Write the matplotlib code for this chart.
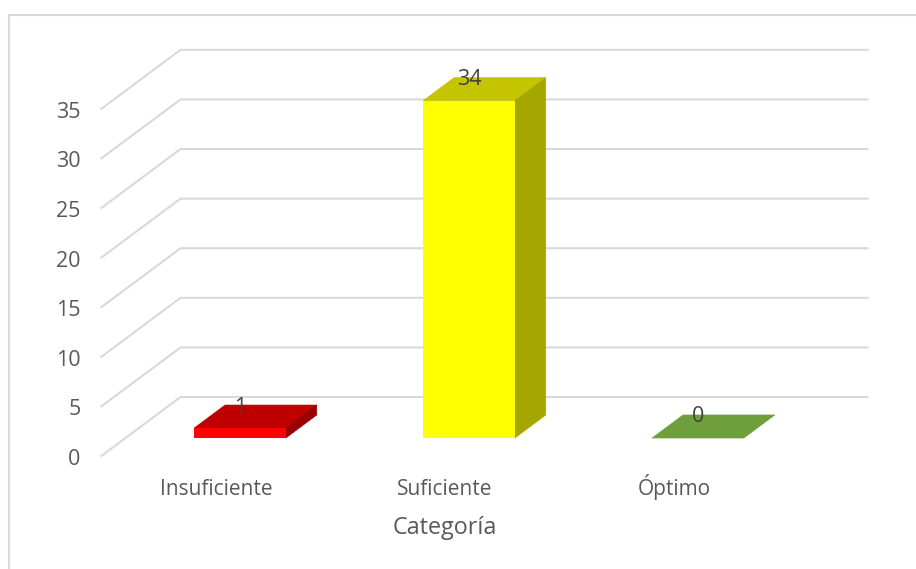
import matplotlib
matplotlib.use("Agg")
from matplotlib import pyplot as plt
from matplotlib.patches import Rectangle

categories = ["Insuficiente", "Suficiente", "Óptimo"]
values = [1, 34, 0]
y_ticks = [0, 5, 10, 15, 20, 25, 30, 35]
front_colors = ["#FF0000", "#FFFF00", "#70AD47"]
top_colors = ["#C00000", "#C4C400", "#6F9E3C"]
side_colors = ["#990000", "#A6A600", "#5A8236"]

plt.rcParams["font.family"] = ["Open Sans", "DejaVu Sans"]

# fake 3D: one unit of depth moves a point by this much in data units
depth_x = 0.135
depth_y = 2.32
floor_front = -0.78
floor_back = 1.78
bar_width = 0.4
px_x = 1 / 229  # one pixel in x data units
px_y = 1 / 9.92  # one pixel in y data units


def shifted(x, y, d):
    return x + d * depth_x, y + d * depth_y


fig = plt.figure(figsize=(9.16, 5.69), dpi=100)
ax = fig.add_axes([0, 0, 1, 1])
ax.set_xlim(-240 * px_x, 676 * px_x)
ax.set_ylim(-131 * px_y, 438 * px_y)
ax.axis("off")

# marco exterior del grafico
ax.add_patch(Rectangle((8.5 / 916, -0.1), 1.1, 0.1 + 554.5 / 569, transform=ax.transAxes,
                       fill=False, edgecolor="#D9D9D9", linewidth=1.5))

# lineas de la pared del fondo y de la pared lateral
for t in y_ticks:
    x0, y0 = shifted(-0.5, t, floor_front)
    x1, y1 = shifted(-0.5, t, floor_back)
    x2, y2 = shifted(2.5, t, floor_back)
    ax.plot([x0, x1, x2], [y0, y1, y2], color="#D9D9D9", linewidth=1.5,
            solid_joinstyle="miter", zorder=1)
    ax.text(x0 - 21 * px_x, y0 - 9 * px_y, str(t), ha="right", va="baseline",
            fontsize=15.5, color="#595959")

for i, v in enumerate(values):
    left = i - bar_width / 2
    right = i + bar_width / 2
    # cara superior
    top = [shifted(left, v, 0), shifted(right, v, 0), shifted(right, v, 1), shifted(left, v, 1)]
    ax.fill(*zip(*top), color=top_colors[i], linewidth=0.5, zorder=3)
    if v > 0:
        ax.bar(i, v, width=bar_width, color=front_colors[i], zorder=4)
        side = [shifted(right, 0, 0), shifted(right, 0, 1), shifted(right, v, 1), shifted(right, v, 0)]
        ax.fill(*zip(*side), color=side_colors[i], linewidth=0.5, zorder=3)
    lx, ly = shifted(i, v, 1)
    ax.text(lx - 31 * px_x, ly - 7.5 * px_y, str(v), ha="center", va="baseline",
            fontsize=15.5, color="#404040", zorder=5)
    cx, cy = shifted(i, 0, floor_front)
    ax.text(cx, cy - 39 * px_y, categories[i], ha="center", va="baseline",
            fontsize=15, color="#595959")

cx, cy = shifted(1, 0, floor_front)
ax.text(cx, cy - 78 * px_y, "Categoría", ha="center", va="baseline", fontsize=16.8, color="#595959")

fig.savefig("out.png", dpi=100)
